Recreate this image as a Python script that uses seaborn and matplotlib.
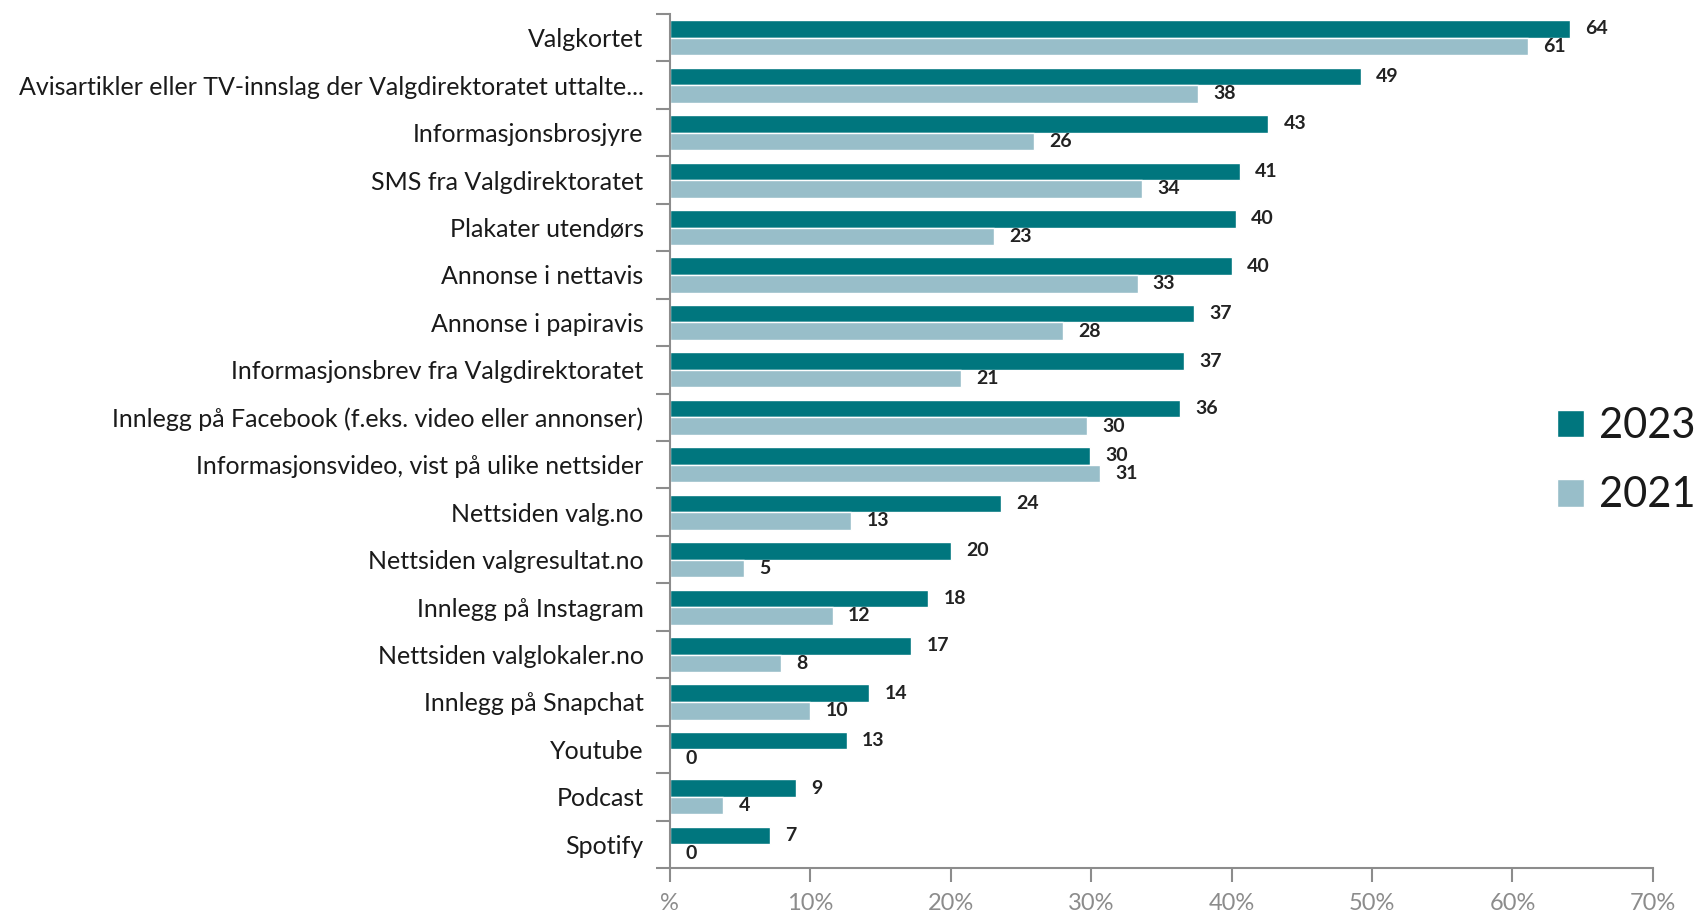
import pandas as pd
import numpy as np
import seaborn as sns
import matplotlib.pyplot as plt
from matplotlib.patches import Patch

# data (percent)
categories = [
    "Valgkortet",
    "Avisartikler eller TV-innslag der Valgdirektoratet uttalte...",
    "Informasjonsbrosjyre",
    "SMS fra Valgdirektoratet",
    "Plakater utendørs",
    "Annonse i nettavis",
    "Annonse i papiravis",
    "Informasjonsbrev fra Valgdirektoratet",
    "Innlegg på Facebook (f.eks. video eller annonser)",
    "Informasjonsvideo, vist på ulike nettsider",
    "Nettsiden valg.no",
    "Nettsiden valgresultat.no",
    "Innlegg på Instagram",
    "Nettsiden valglokaler.no",
    "Innlegg på Snapchat",
    "Youtube",
    "Podcast",
    "Spotify",
]
values_2023 = [64.1, 49.2, 42.6, 40.6, 40.3, 40.0, 37.3, 36.6, 36.3, 29.9,
               23.6, 20.0, 18.4, 17.2, 14.2, 12.6, 9.0, 7.1]
values_2021 = [61.1, 37.6, 25.9, 33.6, 23.1, 33.3, 28.0, 20.7, 29.7, 30.6,
               12.9, 5.3, 11.6, 7.9, 10.0, 0.0, 3.8, 0.0]
years = ["2023", "2021"]
colors = {"2023": "#00767E", "2021": "#98BEC9"}

df = pd.DataFrame({
    "kategori": categories * 2,
    "prosent": values_2023 + values_2021,
    "år": ["2023"] * len(categories) + ["2021"] * len(categories),
})

sns.set_style("white")
plt.rcParams["font.family"] = ["Lato", "DejaVu Sans"]

fig = plt.figure(figsize=(16.96, 9.16), dpi=100)
ax = fig.add_axes([0.395, 0.0524, 0.9746 - 0.395, 0.9847 - 0.0524])

sns.barplot(data=df, x="prosent", y="kategori", hue="år", hue_order=years,
            palette=colors, orient="h", width=0.74, ax=ax, saturation=1)
ax.get_legend().remove()

for cont in ax.containers:
    ax.bar_label(cont, fmt="%.0f", padding=11, fontsize=14,
                 fontweight="bold", color="#222222")

grey = "#8c8c8c"
ax.set_xlim(0, 70)
ax.set_ylim(len(categories) - 0.5, -0.5)
ax.set_xticks(range(0, 71, 10))
ax.set_xticklabels(["%"] + [f"{t}%" for t in range(10, 71, 10)])
ax.tick_params(axis="x", colors=grey, labelsize=17, length=10, width=1.5,
               direction="out", pad=8, bottom=True)
ax.tick_params(axis="x", labelcolor=grey)

# category ticks at the boundaries, labels at the centres
ax.set_yticks(np.arange(-0.5, len(categories), 1), minor=True)
ax.tick_params(axis="y", which="minor", length=10, width=1.5, color=grey, left=True)
ax.tick_params(axis="y", which="major", length=0, pad=19, labelsize=18,
               labelcolor="#1a1a1a")
ax.set_xlabel("")
ax.set_ylabel("")

for side in ["top", "right"]:
    ax.spines[side].set_visible(False)
for side in ["left", "bottom"]:
    ax.spines[side].set_color(grey)
    ax.spines[side].set_linewidth(1.5)

handles = [Patch(facecolor=colors[y], label=y) for y in years]
fig.legend(handles=handles, loc="center left", bbox_to_anchor=(0.918, 0.497),
           frameon=False, fontsize=30, handlelength=0.65, handleheight=0.65,
           handletextpad=0.35, labelspacing=0.75, borderpad=0, borderaxespad=0,
           labelcolor="#1a1a1a")

fig.savefig("out.png", dpi=100)
